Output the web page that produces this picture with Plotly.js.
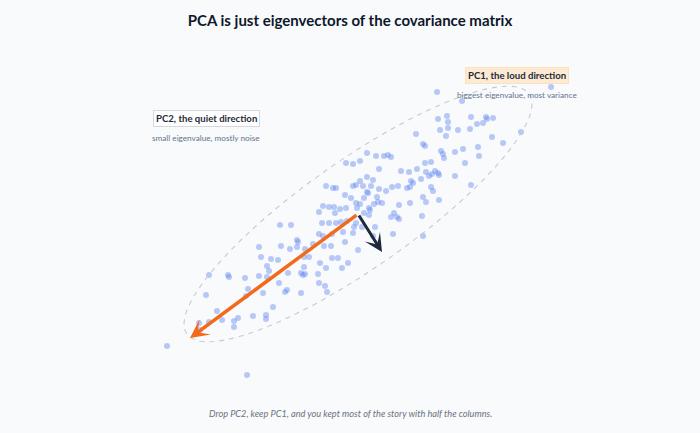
<!DOCTYPE html>
<html>
<head>
<meta charset="utf-8">
<script src="https://cdn.plot.ly/plotly-3.0.1.min.js"></script>
<style>
html,body{margin:0;padding:0;background:#f8fafc;}
#chart{width:700px;height:433px;}
</style>
</head>
<body>
<div id="chart"></div>
<script>
// Sample points (x, y) in chart units (y grows downward)
const xs = [259,281,290,297,261,271,278,267,269,288,209,228,229,245,259,267,279,248,287,285,263,206,246,273,217,266,266,253,238,234,222,209,199,234,200,167,247,
367,376,384,388,346,353,360,379,367,373,360,326,333,336,353,356,363,371,379,386,367,368,345,351,364,377,378,356,360,374,382,323,329,334,340,346,357,369,370,319,335,364,369,322,329,336,341,347,356,362,375,280,291,354,319,323,332,343,297,298,345,313,324,331,305,358,304,309,332,338,320,348,304,326,342,301,303,
462,447,438,471,486,448,483,477,440,448,458,470,416,446,423,425,478,463,441,455,443,444,391,479,425,431,465,401,409,417,426,432,429,435,438,439,455,411,413,421,392,398,407,410,431,433,471,423,426,439,399,410,394,391,397,399,422,393,423,
551,487,493,492,521,503,
305,318,319,325,327,301,353,373,437];
const ys = [247,246,249,247,257,259,260,266,271,273,275,275,277,278,276,277,283,289,290,292,293,295,296,307,311,315,319,316,318,321,320,322,323,327,330,346,375,
153,156,156,155,163,164,161,169,177,180,181,186,188,188,186,185,186,186,189,191,192,193,195,198,198,197,202,203,204,204,203,206,207,207,209,208,208,208,210,212,213,213,215,223,223,223,222,221,223,227,227,225,225,227,234,236,234,232,240,242,242,244,246,246,249,250,257,257,258,258,263,263,267,268,268,273,275,
101,116,119,117,117,122,123,124,130,128,130,129,134,136,144,146,147,149,151,152,154,158,157,156,163,162,163,171,172,169,172,174,176,171,173,175,176,181,183,179,187,186,188,187,187,191,185,197,202,200,205,203,213,217,217,219,216,234,236,
87,119,118,137,132,143,
274,274,283,286,292,293,233,236,92];

// Mean and principal directions (chart units)
const center = [358, 214];
const pc1Vec = [-168, 124];
const pc2Vec = [24, 38];
// Ellipse: semi-axes and tilt (degrees)
const ellipseAxes = [209, 54];
const ellipseTilt = 35;

const labels = {
  pc1: "PC1, the loud direction",
  pc1Sub: "biggest eigenvalue, most variance",
  pc2: "PC2, the quiet direction",
  pc2Sub: "small eigenvalue, mostly noise",
  title: "PCA is just eigenvectors of the covariance matrix",
  note: "Drop PC2, keep PC1, and you kept most of the story with half the columns."
};

// ellipse path
const th = ellipseTilt * Math.PI / 180;
const ux = Math.cos(th), uy = -Math.sin(th);
const vx = Math.sin(th), vy = Math.cos(th);
let path = "";
for (let i = 0; i <= 120; i++) {
  const t = 2 * Math.PI * i / 120;
  const px = center[0] + ellipseAxes[0] * Math.cos(t) * ux + ellipseAxes[1] * Math.sin(t) * vx;
  const py = center[1] + ellipseAxes[0] * Math.cos(t) * uy + ellipseAxes[1] * Math.sin(t) * vy;
  path += (i === 0 ? "M" : "L") + px.toFixed(2) + "," + py.toFixed(2);
}
path += "Z";

const font = "Lato, 'Noto Sans', sans-serif";

const data = [{
  x: xs, y: ys, type: "scatter", mode: "markers",
  marker: {size: 6, color: "rgba(92,130,240,0.42)", line: {width: 0}},
  hoverinfo: "skip"
}];

const layout = {
  width: 700, height: 433,
  margin: {l: 0, r: 0, t: 0, b: 0},
  paper_bgcolor: "#f8fafc", plot_bgcolor: "#f8fafc",
  showlegend: false,
  xaxis: {range: [0, 700], visible: false, fixedrange: true},
  yaxis: {range: [433, 0], visible: false, fixedrange: true},
  title: {text: "<b>" + labels.title + "</b>", x: 0.5, xanchor: "center", y: 1 - 21/433, yanchor: "middle", yref: "container",
          font: {family: font, size: 15, color: "#0f172a"}},
  shapes: [{type: "path", path: path, xref: "x", yref: "y",
            line: {color: "#c4cbd6", width: 1.1, dash: "5px,5px"}, fillcolor: "rgba(0,0,0,0)"}],
  annotations: [
    {x: center[0] + pc1Vec[0], y: center[1] + pc1Vec[1], ax: center[0], ay: center[1],
     xref: "x", yref: "y", axref: "x", ayref: "y", showarrow: true, text: "",
     arrowhead: 3, arrowsize: 0.9, arrowwidth: 3.5, arrowcolor: "#f26a1b"},
    {x: center[0] + pc2Vec[0], y: center[1] + pc2Vec[1], ax: center[0], ay: center[1],
     xref: "x", yref: "y", axref: "x", ayref: "y", showarrow: true, text: "",
     arrowhead: 3, arrowsize: 1.0, arrowwidth: 3, arrowcolor: "#1e293b"},
    {x: 517, y: 75, xref: "x", yref: "y", showarrow: false, text: "<b>" + labels.pc1 + "</b>",
     font: {family: font, size: 9.6, color: "#1e293b"}, bgcolor: "#fdead3", bordercolor: "#fde0bd", borderwidth: 1, borderpad: 2},
    {x: 517, y: 95, xref: "x", yref: "y", showarrow: false, text: labels.pc1Sub,
     font: {family: font, size: 8.2, color: "#64748b"}},
    {x: 206, y: 118, xref: "x", yref: "y", showarrow: false, text: "<b>" + labels.pc2 + "</b>",
     font: {family: font, size: 9.6, color: "#1e293b"}, bgcolor: "#ffffff", bordercolor: "#d4d9e0", borderwidth: 1, borderpad: 2},
    {x: 206, y: 138, xref: "x", yref: "y", showarrow: false, text: labels.pc2Sub,
     font: {family: font, size: 8.2, color: "#64748b"}},
    {x: 350, y: 413, xref: "x", yref: "y", showarrow: false, text: "<i>" + labels.note + "</i>",
     font: {family: font, size: 9.2, color: "#6b7280"}}
  ]
};

Plotly.newPlot("chart", data, layout, {displayModeBar: false, staticPlot: true});
</script>
</body>
</html>
